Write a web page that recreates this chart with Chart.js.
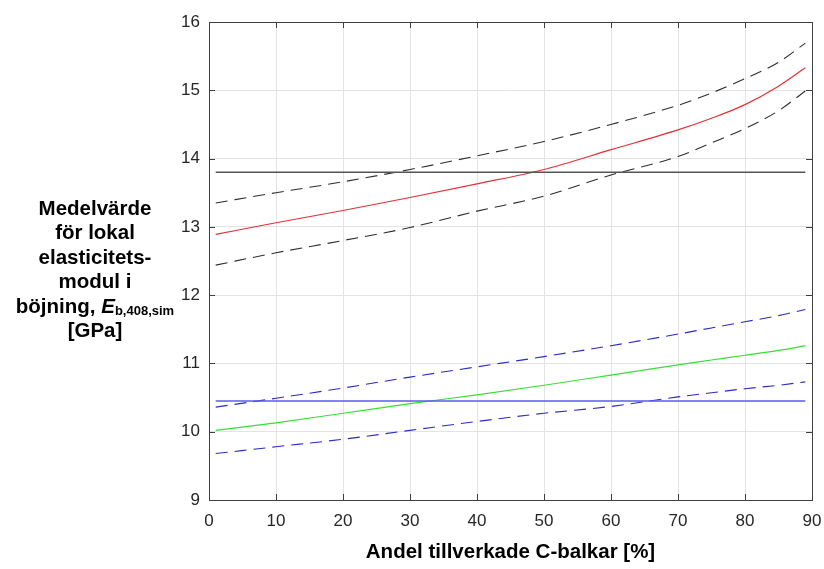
<!DOCTYPE html>
<html>
<head>
<meta charset="utf-8">
<script src="https://cdn.jsdelivr.net/npm/chart.js@4.4.1/dist/chart.umd.min.js"></script>
<style>
  html, body { margin: 0; padding: 0; background: #fff; }
  #wrap { position: relative; width: 824px; height: 569px; }
  #yTitle {
    position: absolute; left: 0; top: 196px; width: 190px;
    text-align: center; font-family: "Liberation Sans", Arial, sans-serif;
    font-weight: bold; font-size: 20.5px; line-height: 24.4px; color: #000;
  }
  #yTitle sub { font-size: 13px; line-height: 0; vertical-align: -2px; }
</style>
</head>
<body>
<div id="wrap">
  <canvas id="chart" width="824" height="569"></canvas>
  <div id="yTitle">Medelvärde<br>för lokal<br>elasticitets-<br>modul i<br>böjning, <i>E</i><sub>b,408,sim</sub><br>[GPa]</div>
</div>
<script>
// x positions (andel C-balkar, %)
const xValues = [1, 10, 20, 30, 40, 50, 60, 70, 75, 80, 85, 89];

// upper group (black/red)
const redMean = [12.89, 13.06, 13.24, 13.43, 13.63, 13.84, 14.13, 14.42, 14.59, 14.79, 15.06, 15.33];
const blackUpper = [13.35, 13.50, 13.66, 13.84, 14.04, 14.25, 14.50, 14.78, 14.96, 15.17, 15.41, 15.69];
const blackLower = [12.44, 12.62, 12.80, 12.99, 13.23, 13.45, 13.76, 14.03, 14.23, 14.44, 14.70, 14.99];
const blackRef = 13.8;

// lower group (blue/green)
const greenMean = [10.02, 10.13, 10.27, 10.41, 10.54, 10.68, 10.83, 10.98, 11.05, 11.12, 11.19, 11.26];
const blueUpper = [10.36, 10.49, 10.64, 10.80, 10.95, 11.10, 11.26, 11.43, 11.52, 11.61, 11.70, 11.79];
const blueLower = [9.68, 9.78, 9.89, 10.02, 10.15, 10.27, 10.37, 10.51, 10.57, 10.63, 10.68, 10.73];
const blueRef = 10.45;

const xTicks = [0, 10, 20, 30, 40, 50, 60, 70, 80, 90];
const yTicks = [9, 10, 11, 12, 13, 14, 15, 16];

function pts(ys) {
  return ys.map((y, i) => ({ x: xValues[i], y: y }));
}
function flat(v) {
  return [{ x: xValues[0], y: v }, { x: xValues[xValues.length - 1], y: v }];
}

// frame + inward ticks like matlab
const boxPlugin = {
  id: "box",
  afterDraw(chart) {
    const ctx = chart.ctx;
    const a = chart.chartArea;
    const xs = chart.scales.x, ys = chart.scales.y;
    ctx.save();
    ctx.strokeStyle = "#404040";
    ctx.lineWidth = 1;
    ctx.beginPath();
    xTicks.forEach((t) => {
      const px = Math.round(xs.getPixelForValue(t)) + 0.5;
      ctx.moveTo(px, a.bottom); ctx.lineTo(px, a.bottom - 6);
      ctx.moveTo(px, a.top); ctx.lineTo(px, a.top + 6);
    });
    yTicks.forEach((t) => {
      const py = Math.round(ys.getPixelForValue(t)) + 0.5;
      ctx.moveTo(a.left, py); ctx.lineTo(a.left + 6, py);
      ctx.moveTo(a.right, py); ctx.lineTo(a.right - 6, py);
    });
    ctx.stroke();
    ctx.strokeRect(Math.round(a.left) + 0.5, Math.round(a.top) + 0.5,
      Math.round(a.right - a.left), Math.round(a.bottom - a.top));
    ctx.restore();
  },
};

const dash = [12, 7];

new Chart(document.getElementById("chart"), {
  type: "line",
  data: {
    datasets: [
      { data: flat(blackRef), borderColor: "#555555", borderWidth: 1.5 },
      { data: pts(blackUpper), borderColor: "#2e2e2e", borderWidth: 1.1, borderDash: dash },
      { data: pts(blackLower), borderColor: "#2e2e2e", borderWidth: 1.1, borderDash: dash },
      { data: pts(redMean), borderColor: "#e53038", borderWidth: 1.2 },
      { data: flat(blueRef), borderColor: "#5a5af2", borderWidth: 1.5 },
      { data: pts(blueUpper), borderColor: "#2a2ac4", borderWidth: 1.1, borderDash: dash },
      { data: pts(blueLower), borderColor: "#2a2ac4", borderWidth: 1.1, borderDash: dash },
      { data: pts(greenMean), borderColor: "#35e035", borderWidth: 1.2 },
    ],
  },
  options: {
    responsive: false,
    animation: false,
    events: [],
    elements: {
      point: { radius: 0 },
      line: { cubicInterpolationMode: "monotone", fill: false },
    },
    layout: { padding: { left: 169, right: 12, top: 22, bottom: 0 } },
    plugins: { legend: { display: false }, tooltip: { enabled: false } },
    scales: {
      x: {
        type: "linear",
        min: 0,
        max: 90,
        afterBuildTicks: (s) => { s.ticks = xTicks.map((v) => ({ value: v })); },
        afterFit: (s) => { s.height = 69; s.paddingLeft = 0; s.paddingRight = 0; },
        grid: { color: "#e3e3e3", drawTicks: false },
        border: { display: false },
        ticks: {
          padding: 11,
          color: "#262626",
          font: { family: "'Liberation Sans', Arial, sans-serif", size: 17 },
        },
        title: {
          display: true,
          text: "Andel tillverkade C-balkar [%]",
          color: "#000",
          font: { family: "'Liberation Sans', Arial, sans-serif", size: 20.5, weight: "bold" },
          padding: { top: 4, bottom: 4 },
        },
      },
      y: {
        min: 9,
        max: 16,
        afterBuildTicks: (s) => { s.ticks = yTicks.map((v) => ({ value: v })); },
        afterFit: (s) => { s.width = 40; s.paddingTop = 0; s.paddingBottom = 0; },
        grid: { color: "#e3e3e3", drawTicks: false },
        border: { display: false },
        ticks: {
          padding: 9,
          color: "#262626",
          font: { family: "'Liberation Sans', Arial, sans-serif", size: 17 },
        },
      },
    },
  },
  plugins: [boxPlugin],
});
</script>
</body>
</html>
